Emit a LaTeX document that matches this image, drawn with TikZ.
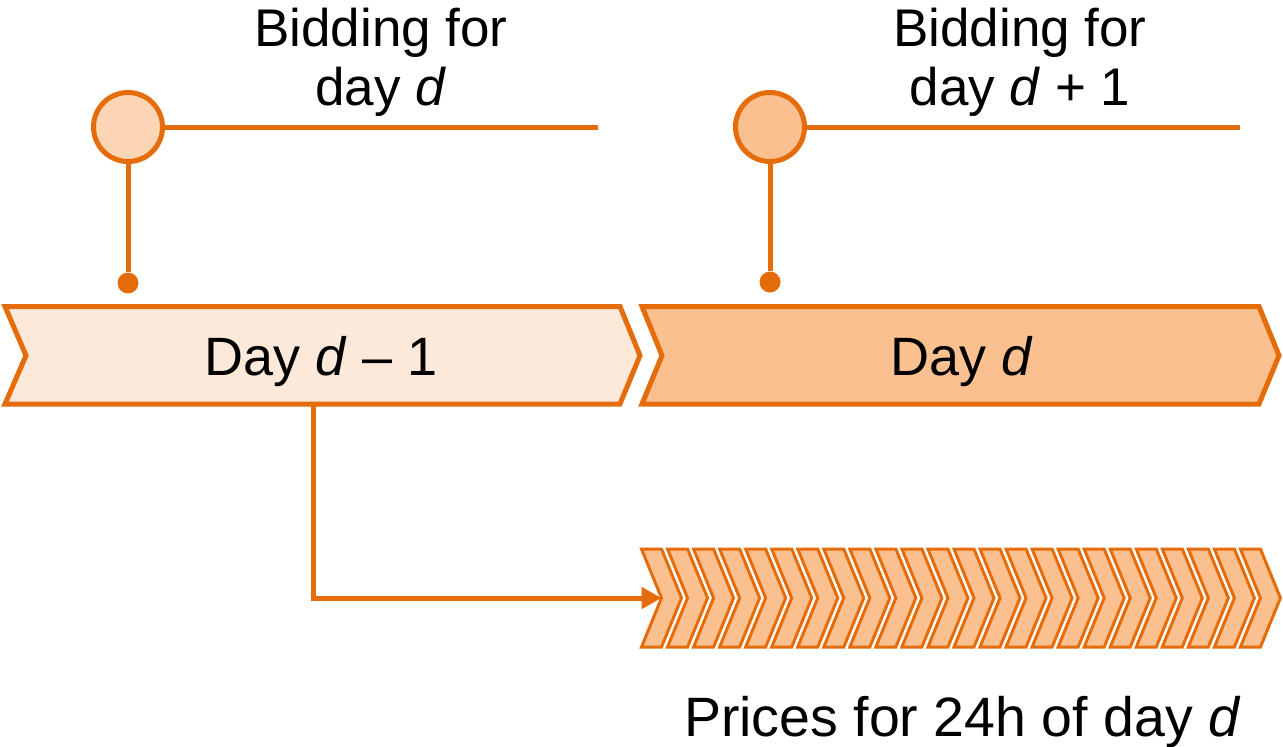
\documentclass[tikz,border=0pt]{standalone}
\usepackage{fontspec}
\setmainfont{Liberation Sans}
\usetikzlibrary{arrows.meta,shadows}
\definecolor{org}{HTML}{E46C0A}
\definecolor{lightA}{HTML}{FDE9D9}
\definecolor{midA}{HTML}{FAC090}
\definecolor{circA}{HTML}{FCD5B5}
\begin{document}
\begin{tikzpicture}[x=1pt,y=-1pt,
  bigchev/.style={draw=org,line width=5pt},
  smallchev/.style={draw=org,fill=midA,line width=3pt},
  conn/.style={draw=org,line width=5pt},
  bubble/.style={circle,draw=org,line width=5pt,minimum size=69pt,inner sep=0pt},
  pin/.style={circle,fill=org,minimum size=21pt,inner sep=0pt},
  lbl/.style={font=\fontsize{54}{60}\selectfont,text=black,inner sep=0pt,anchor=base},
  toplbl/.style={lbl,font=\fontsize{53}{60}\selectfont},
  botlbl/.style={lbl,font=\fontsize{55.5}{60}\selectfont}]
\useasboundingbox (0,0) rectangle (1283,747);

% big chevrons
\draw[bigchev,fill=lightA] (5,306.5) -- (620,306.5) -- (640,355.5) -- (620,404) -- (5,404) -- (26,355.5) -- cycle;
\draw[bigchev,fill=midA] (642,306.5) -- (1259,306.5) -- (1279,355.5) -- (1259,404) -- (642,404) -- (662,355.5) -- cycle;
\node[lbl] (dm1) at (321,375) {Day \textit{d} – 1};
\node[lbl] (dd) at (962,375) {Day \textit{d}};

% 24 small chevrons
\foreach \i in {0,...,23} {
  \pgfmathsetmacro\xx{641.5+26.04*\i}
  \draw[smallchev] (\xx,549) -- ++(20,0) -- ++(20,49) -- ++(-20,49) -- ++(-20,0) -- ++(20,-49) -- cycle;
}
\coordinate (h1) at (661.5,598);
\coordinate (a0) at (313,404);
\draw[conn,-{Triangle[length=20pt,width=21pt]}] (a0) |- (h1);
\node[botlbl] (pr) at (962.5,736) {Prices for 24h of day \textit{d}};

% bidding markers
\coordinate (e1) at (598,127);
\coordinate (e2) at (1240,127);
\node[bubble,fill=circA,drop shadow={shadow xshift=1pt,shadow yshift=-3pt,opacity=0.25}] (c1) at (128,127) {};
\node[bubble,fill=midA] (c2) at (770,127) {};
\node[pin] (p1) at (128,283) {};
\node[pin] (p2) at (770,282) {};
\draw[conn] (c1) -- (e1);
\draw[conn] (c2) -- (e2);
\draw[conn] (c1) -- (p1);
\draw[conn] (c2) -- (p2);

\node[toplbl] (b1a) at (381,46) {Bidding for};
\node[toplbl] (b1b) at (381,105) {day \textit{d}};
\node[toplbl] (b2a) at (1020,46) {Bidding for};
\node[toplbl] (b2b) at (1020,105) {day \textit{d} + 1};
\end{tikzpicture}
\end{document}
